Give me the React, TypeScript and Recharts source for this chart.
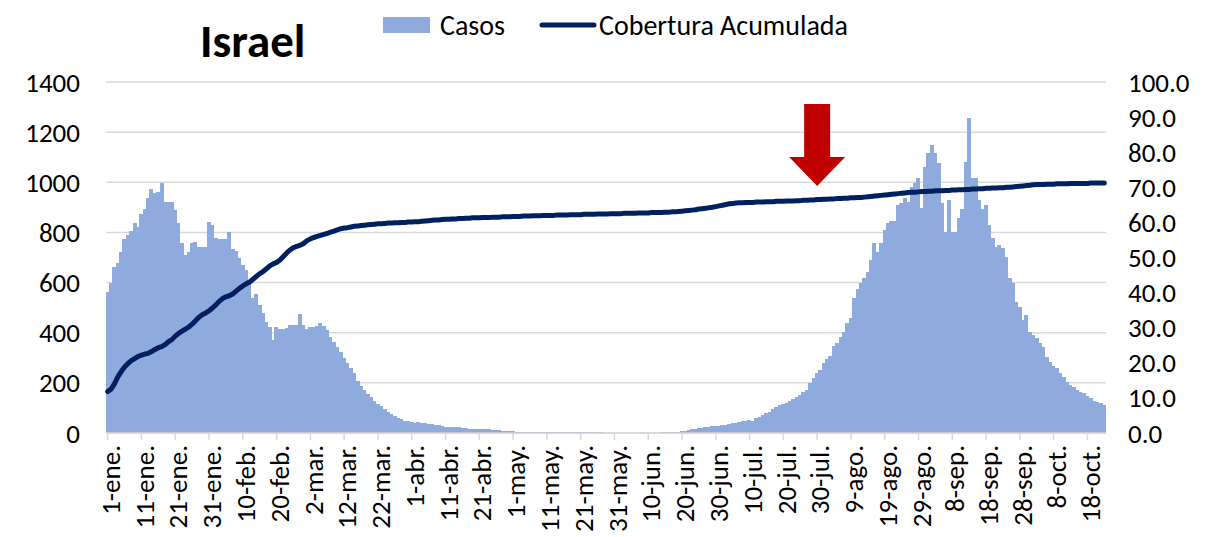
import React from 'react';
import {
  ComposedChart, Bar, Line, XAxis, YAxis, CartesianGrid, ReferenceDot,
} from 'recharts';

// Daily cases (Casos), 1-ene. .. 23-oct.
const casos: number[] = [
  564, 597, 661, 677, 723, 773, 790, 807, 836, 823,
  872, 892, 936, 972, 956, 963, 996, 920, 920, 920,
  890, 836, 757, 710, 723, 757, 763, 743, 741, 741,
  843, 830, 777, 773, 773, 773, 803, 733, 727, 697,
  670, 650, 610, 537, 555, 511, 477, 444, 424, 371,
  424, 414, 414, 418, 431, 431, 431, 475, 431, 414,
  424, 424, 427, 437, 427, 411, 384, 364, 344, 324,
  298, 278, 258, 238, 209, 188, 172, 156, 142, 128,
  116, 106, 94, 85, 76, 68, 60, 54, 49, 46,
  42, 39, 43, 40, 38, 36, 34, 32, 30, 27,
  25, 24, 23, 22, 24, 20, 18, 16, 15, 14,
  14, 15, 15, 14, 12, 11, 10, 8, 7, 6,
  6, 5, 5, 5, 4, 4, 4, 4, 4, 3,
  3, 3, 3, 3, 3, 3, 3, 3, 2, 2,
  2, 2, 2, 2, 2, 2, 2, 1, 1, 1,
  1, 1, 1, 1, 1, 1, 1, 1, 1, 1,
  1, 1, 1, 1, 2, 2, 2, 3, 4, 5,
  7, 9, 12, 14, 17, 19, 21, 23, 25, 26,
  28, 29, 31, 33, 36, 38, 40, 43, 46, 49,
  52, 48, 58, 65, 72, 78, 85, 95, 105, 112,
  116, 121, 127, 134, 143, 152, 162, 172, 198, 218,
  241, 251, 278, 294, 307, 347, 360, 384, 404, 440,
  457, 537, 573, 597, 617, 644, 690, 757, 723, 757,
  811, 836, 847, 847, 910, 919, 936, 923, 983, 996,
  1016, 896, 1062, 1116, 1149, 1116, 1076, 916, 803, 930,
  803, 803, 856, 892, 1082, 1255, 1016, 1016, 930, 892,
  910, 830, 777, 743, 750, 737, 703, 617, 597, 524,
  504, 451, 471, 404, 391, 378, 358, 344, 305, 285,
  267, 258, 238, 225, 205, 191, 182, 172, 165, 158,
  148, 138, 129, 125, 118, 112,
];

// Cumulative coverage (Cobertura Acumulada), %
const cobertura: number[] = [
  11.8, 12.5, 14.0, 16.0, 17.5, 18.8, 19.8, 20.6, 21.2, 21.8,
  22.2, 22.5, 22.7, 23.2, 23.8, 24.3, 24.6, 25.2, 26.0, 26.6,
  27.6, 28.4, 29.0, 29.6, 30.2, 31.0, 32.0, 33.0, 33.7, 34.2,
  34.8, 35.6, 36.5, 37.5, 38.3, 38.8, 39.1, 39.6, 40.4, 41.2,
  41.9, 42.5, 43.0, 43.8, 44.6, 45.4, 46.0, 46.8, 47.6, 48.2,
  48.6, 49.3, 50.3, 51.3, 52.2, 52.8, 53.2, 53.5, 54.0, 54.8,
  55.3, 55.7, 56.0, 56.3, 56.6, 56.9, 57.2, 57.5, 57.9, 58.2,
  58.4, 58.5, 58.7, 58.9, 59.0, 59.1, 59.2, 59.3, 59.4, 59.5,
  59.6, 59.6, 59.7, 59.8, 59.8, 59.9, 59.9, 60.0, 60.0, 60.1,
  60.1, 60.2, 60.2, 60.3, 60.4, 60.5, 60.6, 60.7, 60.7, 60.8,
  60.9, 60.9, 61.0, 61.0, 61.1, 61.1, 61.2, 61.2, 61.3, 61.3,
  61.3, 61.4, 61.4, 61.4, 61.5, 61.5, 61.5, 61.6, 61.6, 61.6,
  61.7, 61.7, 61.7, 61.8, 61.8, 61.8, 61.9, 61.9, 61.9, 62.0,
  62.0, 62.0, 62.0, 62.1, 62.1, 62.1, 62.1, 62.2, 62.2, 62.2,
  62.2, 62.3, 62.3, 62.3, 62.3, 62.4, 62.4, 62.4, 62.4, 62.5,
  62.5, 62.5, 62.5, 62.6, 62.6, 62.6, 62.6, 62.7, 62.7, 62.7,
  62.7, 62.8, 62.8, 62.8, 62.8, 62.9, 62.9, 63.0, 63.0, 63.1,
  63.2, 63.3, 63.4, 63.5, 63.6, 63.8, 63.9, 64.0, 64.2, 64.3,
  64.5, 64.7, 64.9, 65.1, 65.3, 65.4, 65.5, 65.6, 65.6, 65.7,
  65.7, 65.7, 65.8, 65.8, 65.8, 65.9, 65.9, 65.9, 66.0, 66.0,
  66.0, 66.1, 66.1, 66.1, 66.2, 66.2, 66.3, 66.3, 66.4, 66.4,
  66.5, 66.5, 66.6, 66.6, 66.7, 66.7, 66.8, 66.8, 66.9, 66.9,
  67.0, 67.0, 67.1, 67.1, 67.2, 67.3, 67.4, 67.5, 67.6, 67.7,
  67.8, 67.9, 68.0, 68.1, 68.2, 68.3, 68.4, 68.5, 68.6, 68.6,
  68.7, 68.8, 68.8, 68.9, 68.9, 69.0, 69.0, 69.0, 69.1, 69.1,
  69.2, 69.2, 69.3, 69.3, 69.4, 69.4, 69.5, 69.5, 69.6, 69.6,
  69.7, 69.7, 69.8, 69.8, 69.9, 69.9, 70.0, 70.0, 70.1, 70.2,
  70.3, 70.4, 70.5, 70.6, 70.7, 70.8, 70.8, 70.8, 70.9, 70.9,
  70.9, 71.0, 71.0, 71.0, 71.0, 71.1, 71.1, 71.1, 71.1, 71.1,
  71.1, 71.2, 71.2, 71.2, 71.2, 71.2,
];

const MESES: string[] = ['ene', 'feb', 'mar', 'abr', 'may', 'jun', 'jul', 'ago', 'sep', 'oct', 'nov', 'dic'];
const DIAS_MES: number[] = [31, 28, 31, 30, 31, 30, 31, 31, 30, 31, 30, 31];

const leftTicks: number[] = [0, 200, 400, 600, 800, 1000, 1200, 1400];
const rightTicks: number[] = [0, 10, 20, 30, 40, 50, 60, 70, 80, 90, 100];

const TITLE = 'Israel';
const ARROW_DATE = '30-jul.';
const ARROW_VALUE = 70.4;

function buildFechas(n: number): string[] {
  const out: string[] = [];
  let m = 0;
  let d = 1;
  for (let i = 0; i < n; i++) {
    out.push(`${d}-${MESES[m]}.`);
    d++;
    if (d > DIAS_MES[m]) { d = 1; m++; }
  }
  return out;
}

const fechas = buildFechas(casos.length);
const data = fechas.map((f, i) => ({ fecha: f, casos: casos[i], cobertura: cobertura[i] }));

const FONT = 'Carlito, Calibri, Lato, sans-serif';
const BAR_COLOR = '#8faadc';
const LINE_COLOR = '#002060';
const TICK_FS = 27;

const XTick = (props: any) => {
  const { x, y, payload } = props;
  return (
    <text
      x={x}
      y={y}
      transform={`rotate(-90, ${x}, ${y})`}
      textAnchor="end"
      dy="0.45em"
      fontSize={TICK_FS}
      fontFamily={FONT}
      fill="#000"
    >
      {payload.value}
    </text>
  );
};

const SolidBar = (props: any) => {
  const { x, y, width, height } = props;
  if (x == null || y == null || !height) return null;
  return (
    <rect
      x={x - 0.5}
      y={y}
      width={width + 1}
      height={height}
      fill={BAR_COLOR}
      shapeRendering="crispEdges"
    />
  );
};

const Arrow = (props: any) => {
  const { cx, cy } = props;
  if (cx == null || cy == null) return null;
  const pts = [
    [cx - 13, cy - 82], [cx + 13, cy - 82], [cx + 13, cy - 29], [cx + 28, cy - 29],
    [cx, cy], [cx - 28, cy - 29], [cx - 13, cy - 29],
  ].map((p) => p.join(',')).join(' ');
  return <polygon points={pts} fill="#c00000" />;
};

export default function App() {
  return (
    <div style={{ position: 'fixed', left: 0, top: 0, width: 1221, height: 537, overflow: 'hidden', background: '#fff' }}>
      <ComposedChart
        width={1221}
        height={537}
        data={data}
        margin={{ top: 82, right: 0, bottom: 0, left: 0 }}
        barCategoryGap={0}
        barGap={0}
      >
        <CartesianGrid yAxisId="left" vertical={false} stroke="#d9d9d9" strokeWidth={1.5} />
        <XAxis
          dataKey="fecha"
          interval={9}
          height={104}
          tick={<XTick />}
          tickSize={7}
          tickMargin={5}
          axisLine={{ stroke: '#d9d9d9', strokeWidth: 1.5 }}
          tickLine={{ stroke: '#d9d9d9', strokeWidth: 1.5 }}
        />
        <YAxis
          yAxisId="left"
          orientation="left"
          width={106}
          domain={[0, 1400]}
          ticks={leftTicks}
          interval={0}
          axisLine={false}
          tickLine={false}
          tickSize={0}
          tickMargin={26}
          tick={{ fontSize: TICK_FS, fontFamily: FONT, fill: '#000' }}
        />
        <YAxis
          yAxisId="right"
          orientation="right"
          width={115}
          domain={[0, 100]}
          ticks={rightTicks}
          interval={0}
          axisLine={false}
          tickLine={false}
          tickSize={0}
          tickMargin={22}
          tickFormatter={(v: number) => v.toFixed(1)}
          tick={{ fontSize: TICK_FS, fontFamily: FONT, fill: '#000', textAnchor: 'start' }}
        />
        <Bar
          yAxisId="left"
          dataKey="casos"
          fill={BAR_COLOR}
          shape={<SolidBar />}
          isAnimationActive={false}
        />
        <Line
          yAxisId="right"
          dataKey="cobertura"
          type="linear"
          stroke={LINE_COLOR}
          strokeWidth={5}
          strokeLinecap="round"
          strokeLinejoin="round"
          dot={false}
          activeDot={false}
          isAnimationActive={false}
        />
        <ReferenceDot
          yAxisId="right"
          x={ARROW_DATE}
          y={ARROW_VALUE}
          shape={<Arrow />}
        />
      </ComposedChart>
      <svg width={1221} height={80} style={{ position: 'absolute', left: 0, top: 0, pointerEvents: 'none' }}>
        <text x={200} y={57} fontSize={47} fontWeight="bold" fontFamily={FONT} fill="#000">{TITLE}</text>
        <rect x={383} y={17} width={47} height={16} fill={BAR_COLOR} />
        <text x={440} y={35} fontSize={28} fontFamily={FONT} fill="#000">Casos</text>
        <line x1={542} y1={25} x2={594} y2={25} stroke={LINE_COLOR} strokeWidth={5} strokeLinecap="round" />
        <text x={599} y={35} fontSize={28} fontFamily={FONT} fill="#000">Cobertura Acumulada</text>
      </svg>
    </div>
  );
}
